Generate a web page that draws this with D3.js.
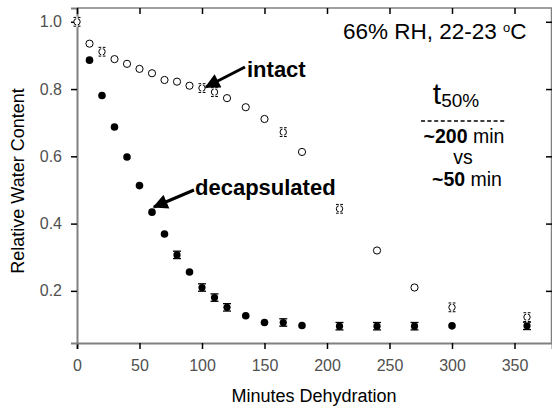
<!DOCTYPE html>
<html><head><meta charset="utf-8">
<script src="https://cdn.jsdelivr.net/npm/d3@7"></script>
<style>
html,body{margin:0;padding:0;background:#fff;}
svg{display:block;}
text{font-family:"Liberation Sans",Arial,sans-serif;}
</style></head>
<body>
<svg id="chart" width="552" height="408"></svg>
<script>
const minutes = [0,10,20,30,40,50,60,70,80,90,100,110,120,135,150,165,180,210,240,270,300,360];
const intact = [1.0,0.935,0.911,0.889,0.875,0.860,0.847,0.827,0.822,0.810,0.803,0.791,0.773,0.746,0.711,0.672,0.613,0.444,0.320,0.210,0.151,0.122];
const decapsulated = [null,0.886,0.781,0.687,0.598,0.513,0.434,0.369,0.307,0.256,0.210,0.180,0.151,0.126,0.106,0.106,0.097,0.095,0.095,0.095,0.096,0.096];
const intactErr = [0.013,0,0.013,0,0,0,0,0,0,0,0.013,0.013,0,0,0,0.013,0,0.013,0,0,0.013,0.013];
const decapErr = [0,0,0,0,0,0,0,0,0.011,0,0.011,0.011,0.011,0,0,0.011,0,0.011,0.011,0.011,0,0.011];
const xTicks = [0,50,100,150,200,250,300,350];
const yTicks = [0.2,0.4,0.6,0.8,1.0];

const svg = d3.select("#chart");
const L = 77, T = 8, R = 552, B = 343;
const x = d3.scaleLinear().domain([0,380]).range([L,R]);
const y = d3.scaleLinear().domain([0.045,1.041]).range([B,T]);

// frame lines
svg.append("line").attr("x1",L).attr("x2",R).attr("y1",T).attr("y2",T).attr("stroke","#808080").attr("stroke-width",1.5);
svg.append("line").attr("x1",R-0.5).attr("x2",R-0.5).attr("y1",T).attr("y2",B).attr("stroke","#808080").attr("stroke-width",1.5);

// axes
const gx = svg.append("g").attr("transform",`translate(0,${B})`)
  .call(d3.axisBottom(x).tickValues(xTicks).tickSize(6).tickPadding(11).tickFormat(d3.format("d")));
const gy = svg.append("g").attr("transform",`translate(${L},0)`)
  .call(d3.axisLeft(y).tickValues(yTicks).tickSize(6).tickPadding(9).tickFormat(d3.format(".1f")));
const gt = svg.append("g").attr("transform",`translate(0,${T})`)
  .call(d3.axisBottom(x).tickValues(xTicks).tickSize(6).tickFormat(""));
const gr = svg.append("g").attr("transform",`translate(${R},0)`)
  .call(d3.axisLeft(y).tickValues(yTicks).tickSize(6).tickFormat(""));
[gt,gr].forEach(g=>g.select(".domain").remove());
[gx,gy].forEach(g=>{
  g.select(".domain").attr("stroke","#808080").attr("stroke-width",2);
  g.selectAll(".tick line").attr("stroke","#000").attr("stroke-width",1.5);
  g.selectAll(".tick text").attr("font-size",16).attr("fill","#505050")
   .attr("font-family","'Liberation Sans',Arial,sans-serif");
});
[gt,gr].forEach(g=>g.selectAll(".tick line").attr("stroke","#000").attr("stroke-width",1.5));

// axis titles
svg.append("text").attr("x",314).attr("y",402).attr("text-anchor","middle")
  .attr("font-size",18).attr("fill","#000").text("Minutes Dehydration");
svg.append("text").attr("transform","translate(24,181) rotate(-90)").attr("text-anchor","middle")
  .attr("font-size",18).attr("fill","#000").text("Relative Water Content");

// data
const rows = minutes.map((m,i)=>({m, a:intact[i], ae:intactErr[i], d:decapsulated[i], de:decapErr[i]}));

// decapsulated error bars + markers
const dRows = rows.filter(r=>r.d!==null);
const gd = svg.append("g");
dRows.filter(r=>r.de>0).forEach(r=>{
  const cx = x(r.m), y1 = y(r.d+r.de), y2 = y(r.d-r.de);
  gd.append("line").attr("x1",cx).attr("x2",cx).attr("y1",y1).attr("y2",y2).attr("stroke","#000").attr("stroke-width",1);
  gd.append("line").attr("x1",cx-4).attr("x2",cx+4).attr("y1",y1).attr("y2",y1).attr("stroke","#000").attr("stroke-width",1.3);
  gd.append("line").attr("x1",cx-4).attr("x2",cx+4).attr("y1",y2).attr("y2",y2).attr("stroke","#000").attr("stroke-width",1.3);
});
gd.selectAll("circle").data(dRows).join("circle")
  .attr("cx",r=>x(r.m)).attr("cy",r=>y(r.d)).attr("r",r=>r.de>0?3.6:3.8).attr("fill","#000");

// intact markers
const gi = svg.append("g");
rows.forEach(r=>{
  const cx = x(r.m), cy = y(r.a);
  if (r.ae>0) {
    const y1 = y(r.a+r.ae), y2 = y(r.a-r.ae);
    gi.append("circle").attr("cx",cx).attr("cy",cy).attr("r",3.2).attr("fill","#fff").attr("stroke","#000").attr("stroke-width",1);
    gi.append("line").attr("x1",cx-3.5).attr("x2",cx+3.5).attr("y1",y1).attr("y2",y1).attr("stroke","#000").attr("stroke-width",1);
    gi.append("line").attr("x1",cx-3.5).attr("x2",cx+3.5).attr("y1",y2).attr("y2",y2).attr("stroke","#000").attr("stroke-width",1);
    gi.append("line").attr("x1",cx).attr("x2",cx).attr("y1",y1-1).attr("y2",y2+1).attr("stroke","#fff").attr("stroke-width",1.6);
  } else {
    gi.append("circle").attr("cx",cx).attr("cy",cy).attr("r",3.6).attr("fill","#fff").attr("stroke","#000").attr("stroke-width",1);
  }
});

// annotations
const defs = svg.append("defs");
defs.append("marker").attr("id","ah").attr("viewBox","0 0 10 10").attr("refX",9).attr("refY",5)
  .attr("markerWidth",5.5).attr("markerHeight",5).attr("orient","auto").attr("markerUnits","strokeWidth")
  .append("path").attr("d","M0,0 L10,5 L0,10 Z").attr("fill","#000");

svg.append("line").attr("x1",245).attr("y1",67).attr("x2",206).attr("y2",87)
  .attr("stroke","#000").attr("stroke-width",3).attr("marker-end","url(#ah)");
svg.append("text").attr("x",247).attr("y",77).attr("font-size",22).attr("font-weight","bold").text("intact");

svg.append("line").attr("x1",194).attr("y1",190).attr("x2",154).attr("y2",207)
  .attr("stroke","#000").attr("stroke-width",3).attr("marker-end","url(#ah)");
svg.append("text").attr("x",195).attr("y",195).attr("font-size",22).attr("font-weight","bold").text("decapsulated");

const cond = svg.append("text").attr("x",343).attr("y",39).attr("font-size",22.5);
cond.append("tspan").text("66% RH, 22-23 ");
cond.append("tspan").attr("font-size",13).attr("dy",-7).text("o");
cond.append("tspan").attr("dy",7).text("C");

const sans = "'DejaVu Sans',Verdana,sans-serif";
const t50 = svg.append("text").attr("x",456).attr("y",104).attr("text-anchor","middle").attr("font-family",sans).attr("font-size",30);
t50.append("tspan").text("t");
t50.append("tspan").attr("font-size",19).attr("dy",3).text("50%");
svg.append("line").attr("x1",421).attr("x2",505).attr("y1",121).attr("y2",121)
  .attr("stroke","#000").attr("stroke-width",1.5).attr("stroke-dasharray","4,2.6");
const l1 = svg.append("text").attr("x",464).attr("y",143).attr("text-anchor","middle").attr("font-family",sans).attr("font-size",19.5);
l1.append("tspan").attr("font-weight","bold").text("~200");
l1.append("tspan").text(" min");
svg.append("text").attr("x",463).attr("y",164).attr("text-anchor","middle").attr("font-family",sans).attr("font-size",19.5).text("vs");
const l2 = svg.append("text").attr("x",467).attr("y",186).attr("text-anchor","middle").attr("font-family",sans).attr("font-size",19.5);
l2.append("tspan").attr("font-weight","bold").text("~50");
l2.append("tspan").text(" min");
</script>
</body></html>
